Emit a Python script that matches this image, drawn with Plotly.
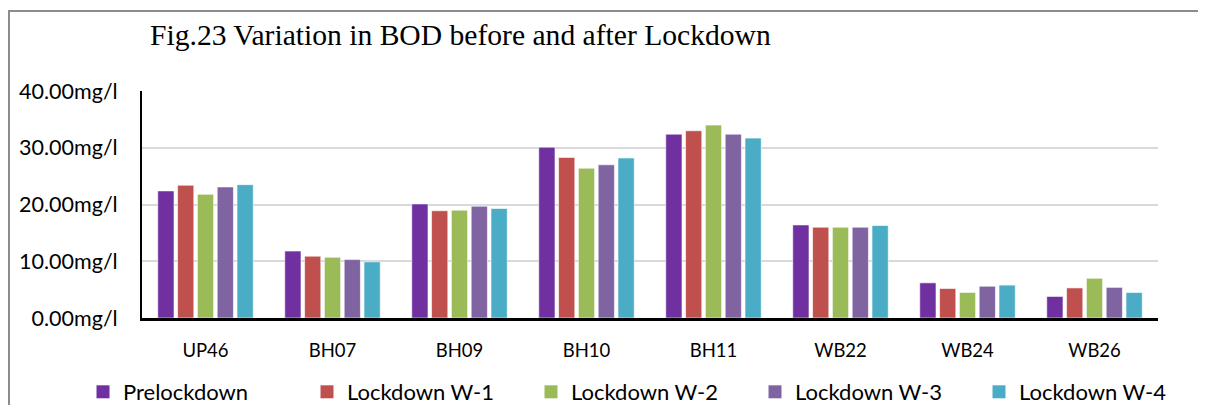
import plotly.graph_objects as go

categories = ["UP46", "BH07", "BH09", "BH10", "BH11", "WB22", "WB24", "WB26"]
prelockdown = [22.4, 11.8, 20.1, 30.1, 32.4, 16.4, 6.2, 3.8]
lockdown_w1 = [23.4, 10.9, 18.9, 28.3, 33.0, 16.0, 5.2, 5.3]
lockdown_w2 = [21.8, 10.7, 19.0, 26.4, 34.0, 16.0, 4.5, 7.0]
lockdown_w3 = [23.1, 10.3, 19.7, 27.0, 32.4, 16.0, 5.6, 5.4]
lockdown_w4 = [23.5, 9.9, 19.3, 28.2, 31.7, 16.3, 5.8, 4.5]
series_names = ["Prelockdown", "Lockdown W-1", "Lockdown W-2", "Lockdown W-3", "Lockdown W-4"]
series_values = [prelockdown, lockdown_w1, lockdown_w2, lockdown_w3, lockdown_w4]
colors = ["#7030A0", "#C0504D", "#9BBB59", "#8064A2", "#4BACC6"]
y_ticks = [0, 10, 20, 30, 40]
y_ticktext = [f"{v:.2f}mg/l" for v in y_ticks]

# page renders with an 8px body offset; design coordinates are target minus offset
OFF = 8
W, H = 1206, 405
L = 142 - OFF
T = 91 - OFF
R = W - (1158 - OFF)
B = H - (318 - OFF)
pw, ph = W - L - R, H - T - B

fig = go.Figure()
for name, vals, c in zip(series_names, series_values, colors):
    fig.add_trace(go.Bar(x=categories, y=vals, name=name, showlegend=False,
                         marker=dict(color=c, line=dict(color="rgba(255,255,255,0.6)", width=1))))
# legend entries with square swatches
for name, c in zip(series_names, colors):
    fig.add_trace(go.Scatter(x=[None], y=[None], mode="markers", name=name,
                             marker=dict(symbol="square", size=13, color=c)))


def px_x(v):
    return (v - OFF - L) / pw


def px_y(v):
    return (H - B - (v - OFF)) / ph


fig.add_shape(type="rect", xref="paper", yref="paper",
              x0=px_x(9), x1=px_x(1200), y0=px_y(440), y1=px_y(11),
              line=dict(color="#8C8C8C", width=2), layer="below")

fig.update_layout(
    width=W, height=H,
    margin=dict(l=L, r=R, t=T, b=B, autoexpand=False),
    paper_bgcolor="white", plot_bgcolor="white",
    barmode="group", bargap=0.22, bargroupgap=0.18,
    title=dict(text="Fig.23 Variation in BOD before and after Lockdown",
               x=(150 - OFF) / W, xanchor="left", y=1 - (35 - OFF) / H, yanchor="middle",
               font=dict(family="Liberation Serif", size=29.6, color="black")),
    font=dict(family="Lato", size=18, color="black"),
    showlegend=True,
    legend=dict(orientation="h", x=px_x(83), xanchor="left", y=px_y(371), yanchor="top",
                font=dict(family="Lato", size=22, color="black"),
                entrywidth=179, traceorder="normal", itemwidth=30),
)
fig.update_yaxes(range=[0, 40], tickmode="array", tickvals=y_ticks, ticktext=y_ticktext,
                 showgrid=True, gridcolor="#D9D9D9", gridwidth=2,
                 showline=True, linecolor="black", linewidth=2,
                 zeroline=False, ticklabelstandoff=18,
                 tickfont=dict(family="Lato", size=21.5))
fig.update_xaxes(showline=True, linecolor="black", linewidth=3,
                 ticklabelstandoff=14, tickfont=dict(family="Lato", size=18.5))

fig.write_html("out.html")
